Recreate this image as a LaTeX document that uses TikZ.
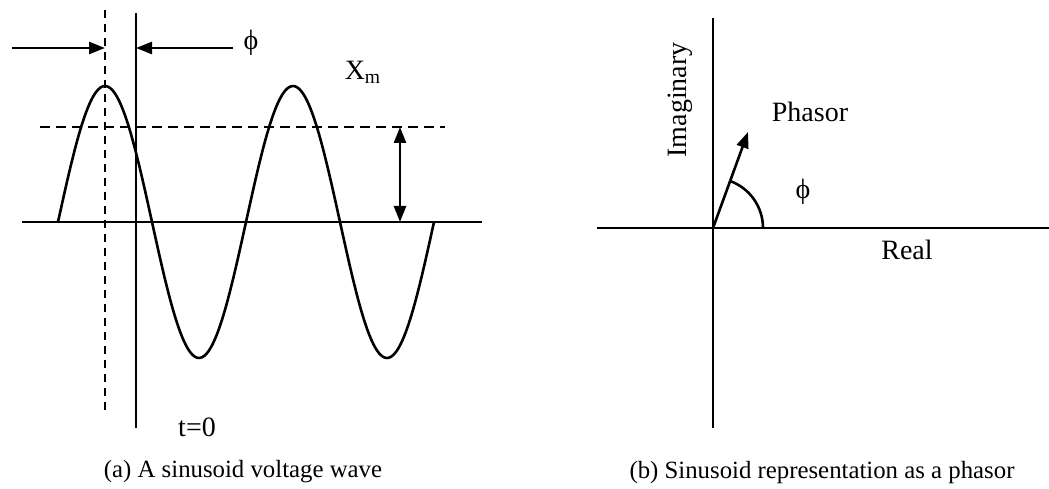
\documentclass[tikz,border=0pt]{standalone}
\usepackage{fontspec}
\setmainfont{Liberation Serif}
\usetikzlibrary{arrows.meta}

\begin{document}
\begin{tikzpicture}[x=0.5pt, y=0.5pt, line width=1.3pt,
    arr/.style={-{Triangle[length=8pt, width=6pt]}},
    dblarr/.style={{Triangle[length=8pt, width=6pt]}-{Triangle[length=8pt, width=6pt]}},
    lbl/.style={inner sep=0, font=\fontsize{14}{16}\selectfont},
    captext/.style={inner sep=0, font=\fontsize{12.4}{14}\selectfont}]
    \useasboundingbox (0, 0) rectangle (1049, 488);
    \coordinate (dashtop) at (105, 478);
    \coordinate (dashbot) at (105, 75);
    \coordinate (tzerotop) at (136, 475);
    \coordinate (tzerobot) at (136, 60);
    \coordinate (phlstart) at (12, 440);
    \coordinate (phlend) at (105, 440);
    \coordinate (phrstart) at (233, 440);
    \coordinate (phrend) at (136, 440);
    \coordinate (axl) at (22, 266);
    \coordinate (axr) at (482, 266);
    \coordinate (rmsl) at (40, 361);
    \coordinate (rmsr) at (445, 361);
    \coordinate (rmstop) at (400, 361);
    \coordinate (rmsbot) at (400, 266);
    \draw[dash pattern=on 4pt off 3pt] (dashtop) -- (dashbot);
    \draw (tzerotop) -- (tzerobot);
    \draw[arr] (phlstart) -- (phlend);
    \draw[arr] (phrstart) -- (phrend);
    \draw (axl) -- (axr);
    \draw[dash pattern=on 5pt off 3pt] (rmsl) -- (rmsr);
    \draw[dblarr] (rmstop) -- (rmsbot);
    \draw[domain=0:4, samples=160, smooth] plot ({58+94*\x}, {266+136*sin(180*\x)});
    \node[lbl] (phia) at (251, 445) {ϕ};
    \node[lbl] (xm) at (363, 416) {X\textsubscript{m}};
    \node[lbl] (tzero) at (197, 61) {t=0};
    \node[captext] (capa) at (243, 16) {(a) A sinusoid voltage wave};
    \coordinate (origin) at (713, 260);
    \coordinate (imtop) at (713, 470);
    \coordinate (imbot) at (713, 60);
    \coordinate (rel) at (597, 260);
    \coordinate (rer) at (1049, 260);
    \coordinate (tip) at (748, 356);
    \draw (imtop) -- (imbot);
    \draw (rel) -- (rer);
    \draw[arr] (origin) -- (tip);
    \draw (origin) ++(50, 0) arc (0:70:50);
    \node[lbl] (phib) at (803, 296) {ϕ};
    \node[lbl] (phasor) at (810, 376) {Phasor};
    \node[lbl, rotate=90] (imag) at (680, 388) {Imaginary};
    \node[lbl] (real) at (907, 238) {Real};
    \node[captext] (capb) at (822, 15) {(b) Sinusoid representation as a phasor};
\end{tikzpicture}
\end{document}
